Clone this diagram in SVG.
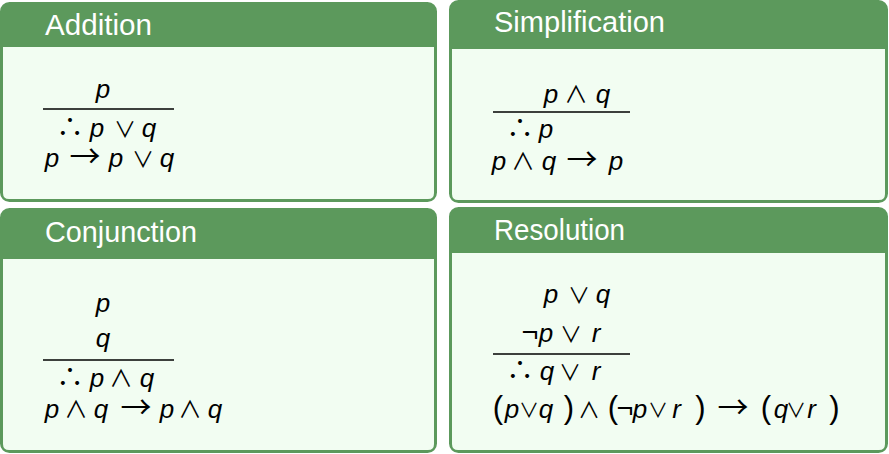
<svg xmlns="http://www.w3.org/2000/svg" width="889" height="454" viewBox="0 0 889 454">
<style>
.frame{fill:#5c995c;stroke:#5c995c;stroke-width:3}
.body{fill:#f2fdf2}
.title{font-family:"Liberation Sans",Arial,sans-serif;font-size:29px;fill:#ffffff}
.m{font-family:"Liberation Sans","DejaVu Sans",sans-serif;font-size:26px;fill:#000000}
.v{font-style:italic}
.or{font-family:"Noto Sans CJK JP","DejaVu Sans",sans-serif;font-size:22px}
.and{font-family:"Noto Sans CJK JP","DejaVu Sans",sans-serif;font-size:23.5px}
.or2{font-family:"Noto Sans CJK JP","DejaVu Sans",sans-serif;font-size:20px}
.and2{font-family:"Noto Sans CJK JP","DejaVu Sans",sans-serif;font-size:22px}
.t{font-family:"Noto Sans CJK JP","DejaVu Sans",sans-serif;font-size:27px}
.a{font-family:"Noto Sans CJK JP","DejaVu Sans",sans-serif;font-size:31px}
.n{font-size:29px}
.big{font-size:31px}
.rule{stroke:#000000;stroke-width:1.3}
</style>
<rect width="889" height="454" fill="#ffffff"/>
<g id="addition">
<rect class="frame" x="1.5" y="3.5" width="434" height="197" rx="8"/>
<path class="body" d="M3,47 H434 V193 Q434,199 428,199 H9 Q3,199 3,193 Z"/>
<text class="title" x="45" y="35" textLength="107" lengthAdjust="spacingAndGlyphs">Addition</text>
<text class="m" y="98"><tspan class="v" x="95.8">p</tspan></text>
<line class="rule" x1="43" y1="109" x2="174" y2="109"/>
<text class="m" y="137"><tspan class="t" x="56.5">∴</tspan><tspan class="v" x="89.8">p</tspan><tspan class="or" x="114">∨</tspan><tspan class="v" x="141.8">q</tspan></text>
<text class="m" y="167"><tspan class="v" x="44.8">p</tspan><tspan class="a" x="69.5">→</tspan><tspan class="v" x="108.8">p</tspan><tspan class="or" x="132">∨</tspan><tspan class="v" x="159.8">q</tspan></text>
</g>
<g id="simplification">
<rect class="frame" x="450.5" y="1.5" width="436" height="200" rx="8"/>
<path class="body" d="M452,49 H885 V194 Q885,200 879,200 H458 Q452,200 452,194 Z"/>
<text class="title" x="494" y="32" textLength="171" lengthAdjust="spacingAndGlyphs">Simplification</text>
<text class="m" y="103"><tspan class="v" x="543.8">p</tspan><tspan class="and" x="564.25">∧</tspan><tspan class="v" x="595.8">q</tspan></text>
<line class="rule" x1="493" y1="112" x2="630" y2="112"/>
<text class="m" y="138"><tspan class="t" x="506.5">∴</tspan><tspan class="v" x="538.8">p</tspan></text>
<text class="m" y="170"><tspan class="v" x="491.8">p</tspan><tspan class="and" x="511.25">∧</tspan><tspan class="v" x="541.8">q</tspan><tspan class="a" x="566.5">→</tspan><tspan class="v" x="608.8">p</tspan></text>
</g>
<g id="conjunction">
<rect class="frame" x="1.5" y="209.5" width="434" height="242" rx="8"/>
<path class="body" d="M3,259 H434 V444 Q434,450 428,450 H9 Q3,450 3,444 Z"/>
<text class="title" x="45" y="242" textLength="152" lengthAdjust="spacingAndGlyphs">Conjunction</text>
<text class="m" y="312"><tspan class="v" x="95.8">p</tspan></text>
<text class="m" y="347"><tspan class="v" x="95.8">q</tspan></text>
<line class="rule" x1="43" y1="360" x2="174" y2="360"/>
<text class="m" y="387"><tspan class="t" x="56.5">∴</tspan><tspan class="v" x="89.8">p</tspan><tspan class="and" x="109.25">∧</tspan><tspan class="v" x="139.8">q</tspan></text>
<text class="m" y="418"><tspan class="v" x="44.8">p</tspan><tspan class="and" x="64.25">∧</tspan><tspan class="v" x="93.8">q</tspan><tspan class="a" x="120.5">→</tspan><tspan class="v" x="159.8">p</tspan><tspan class="and" x="178.25">∧</tspan><tspan class="v" x="207.8">q</tspan></text>
</g>
<g id="resolution">
<rect class="frame" x="450.5" y="208.5" width="436" height="243" rx="8"/>
<path class="body" d="M452,253 H885 V444 Q885,450 879,450 H458 Q452,450 452,444 Z"/>
<text class="title" x="494" y="240" textLength="131" lengthAdjust="spacingAndGlyphs">Resolution</text>
<text class="m" y="303"><tspan class="v" x="543.8">p</tspan><tspan class="or" x="568">∨</tspan><tspan class="v" x="595.8">q</tspan></text>
<text class="m" y="342"><tspan class="n" x="521.5">¬</tspan><tspan class="v" x="538.8">p</tspan><tspan class="or" x="560">∨</tspan><tspan class="v" x="591.7">r</tspan></text>
<line class="rule" x1="493" y1="354" x2="630" y2="354"/>
<text class="m" y="380"><tspan class="t" x="506.5">∴</tspan><tspan class="v" x="539.8">q</tspan><tspan class="or" x="559">∨</tspan><tspan class="v" x="591.7">r</tspan></text>
<text class="m" y="418"><tspan class="big" x="492.8">(</tspan><tspan class="v" x="504.8">p</tspan><tspan class="or2" x="519">∨</tspan><tspan class="v" x="538.8">q</tspan><tspan class="big" x="563.8">)</tspan><tspan class="and2" x="578">∧</tspan><tspan class="big" x="607.8">(</tspan><tspan class="n" x="616.5">¬</tspan><tspan class="v" x="632.8">p</tspan><tspan class="or2" x="648">∨</tspan><tspan class="v" x="672.2">r</tspan><tspan class="big" x="695.3">)</tspan><tspan class="a" x="717.5">→</tspan><tspan class="big" x="760.8">(</tspan><tspan class="v" x="773.8">q</tspan><tspan class="or2" x="786">∨</tspan><tspan class="v" x="807.2">r</tspan><tspan class="big" x="829.3">)</tspan></text>
</g>
</svg>
